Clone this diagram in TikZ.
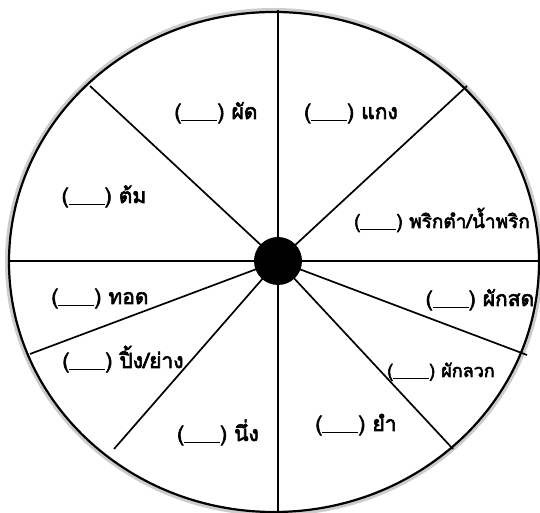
\documentclass[tikz,border=0pt]{standalone}
\usepackage{fontspec}
\newfontfamily\thaifont[Script=Thai, AutoFakeBold=3]{Loma}
\newcommand{\blankslot}{(\rule[-2.5pt]{36pt}{1.4pt})}

\begin{document}
\begin{tikzpicture}[x=1pt, y=1pt,
  spoke/.style={line width=1.7pt},
  food/.style={font=\thaifont\bfseries\fontsize{21}{24}\selectfont,
    anchor=base, inner sep=0pt}]

\useasboundingbox (0,0) rectangle (540,513);
\clip (0,0) rectangle (540,513);

% --- Wheel rim ---
\draw[gray!40, line width=4pt] (274,251) ellipse [x radius=267, y radius=252];
\draw[line width=2.2pt] (274,251) ellipse [x radius=265, y radius=250];

% Spoke ends on the rim
\coordinate (mid) at (278,252);
\coordinate (rTop) at (278,503);
\coordinate (rUR) at (467,427);
\coordinate (rR) at (545,252);
\coordinate (rLRs) at (527,158);
\coordinate (rLRt) at (453,64);
\coordinate (rBot) at (278,-5);
\coordinate (rLLt) at (114,64);
\coordinate (rLLs) at (30,159);
\coordinate (rL) at (8,252);
\coordinate (rUL) at (90,427);

\foreach \p in {rTop, rUR, rR, rLRs, rLRt, rBot, rLLt, rLLs, rL, rUL}
  \draw[spoke] (mid) -- (\p);

\node[circle, fill=black, minimum size=48pt, inner sep=0pt] (hub) at (mid) {};

% --- Cooking methods ---
\node[food] (phat) at (216,394) {\blankslot\ ผัด};
\node[food] (kaeng) at (351,394) {\blankslot\ แกง};
\node[food] (tom) at (104,310) {\blankslot\ ต้ม};
\node[food, font=\thaifont\bfseries\fontsize{19}{22}\selectfont] (namphrik) at (442,285) {\blankslot\ พริกตำ/น้ำพริก};
\node[food] (thot) at (100,209) {\blankslot\ ทอด};
\node[food] (phaksot) at (480,207) {\blankslot\ ผักสด};
\node[food] (ping) at (123,145) {\blankslot\ ปิ้ง/ย่าง};
\node[food, font=\thaifont\bfseries\fontsize{18}{21}\selectfont] (phakluak) at (441,136) {\blankslot\ ผักลวก};
\node[food] (nueng) at (218,72) {\blankslot\ นึ่ง};
\node[food] (yam) at (356,82) {\blankslot\ ยำ};

\end{tikzpicture}
\end{document}
